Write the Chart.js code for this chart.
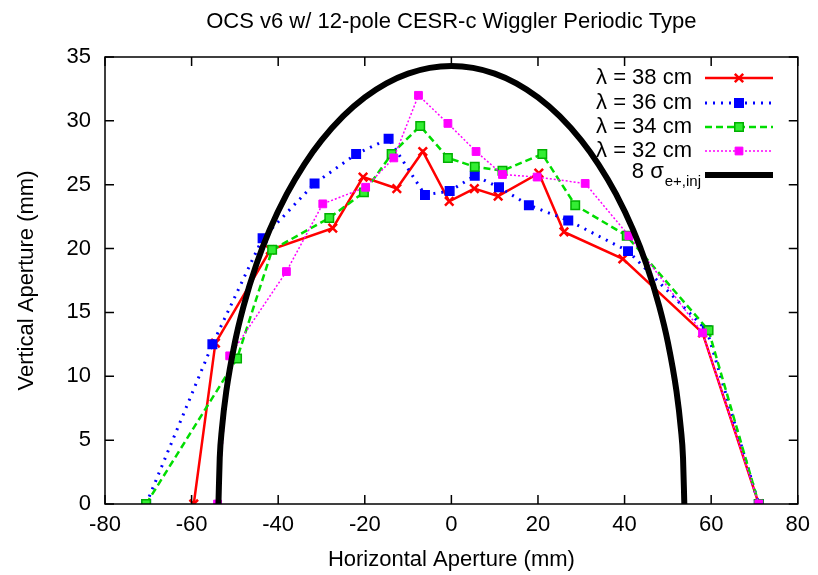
<!DOCTYPE html>
<html>
<head>
<meta charset="utf-8">
<script src="https://cdn.jsdelivr.net/npm/chart.js@4/dist/chart.umd.min.js"></script>
<style>
html,body{margin:0;padding:0;background:#fff;}
#wrap{width:818px;height:575px;position:relative;}
</style>
</head>
<body>
<div id="wrap"><canvas id="c" width="818" height="575"></canvas></div>
<script>
// ---- data ----
const titleText = "OCS v6 w/ 12-pole CESR-c Wiggler Periodic Type";
const xAxisTitle = "Horizontal Aperture (mm)";
const yAxisTitle = "Vertical Aperture (mm)";
const seriesLabels = ["λ = 38 cm", "λ = 36 cm", "λ = 34 cm", "λ = 32 cm", "8 σ"];
const sigmaSub = "e+,inj";

const xTicks = [-80, -60, -40, -20, 0, 20, 40, 60, 80];
const yTicks = [0, 5, 10, 15, 20, 25, 30, 35];

const lam38X = [-59.5, -54.5, -41.8, -27.4, -20.4, -12.6, -6.6, -0.5, 5.3, 10.8, 20.2, 26.0, 39.6, 58.0, 71.0];
const lam38Y = [0, 12.6, 19.9, 21.6, 25.6, 24.7, 27.6, 23.7, 24.7, 24.1, 25.9, 21.3, 19.2, 13.4, 0];

const lam36X = [-70.5, -55.2, -43.6, -31.6, -22.0, -14.5, -6.1, -0.4, 5.4, 11.0, 17.9, 27.0, 40.8, 59.0, 71.0];
const lam36Y = [0, 12.5, 20.8, 25.1, 27.4, 28.6, 24.2, 24.5, 25.7, 24.8, 23.4, 22.2, 19.8, 13.6, 0];

const lam34X = [-70.5, -49.5, -41.4, -28.2, -20.2, -13.8, -7.2, -0.8, 5.4, 11.8, 21.0, 28.6, 40.5, 59.4, 71.0];
const lam34Y = [0, 11.4, 19.9, 22.4, 24.4, 27.4, 29.6, 27.1, 26.4, 26.1, 27.4, 23.4, 21.0, 13.6, 0];

const lam32X = [-54.0, -51.2, -38.1, -29.7, -19.8, -13.3, -7.6, -0.8, 5.7, 11.8, 19.8, 30.9, 41.0, 58.0, 71.0];
const lam32Y = [0, 11.6, 18.2, 23.5, 24.8, 27.1, 32.0, 29.8, 27.6, 25.8, 25.6, 25.1, 21.0, 13.4, 0];

const sigmaX = [-53.8, -53.5, -53, -52, -50, -48, -45, -42, -38, -34, -30, -25, -20, -15, -10, -5, 0, 5, 10, 15, 20, 25, 30, 34, 38, 42, 45, 48, 50, 52, 53, 53.5, 53.8];
const sigmaY = [0, 3.62, 5.89, 8.80, 12.66, 15.49, 18.80, 21.44, 24.28, 26.58, 28.47, 30.37, 31.84, 32.94, 33.70, 34.15, 34.3, 34.15, 33.70, 32.94, 31.84, 30.37, 28.47, 26.58, 24.28, 21.44, 18.80, 15.49, 12.66, 8.80, 5.89, 3.62, 0];

// ---- build ----
function pts(xs, ys){ return xs.map((x,i)=>({x:x, y:ys[i]})); }
const FONT = "'Liberation Sans', Arial, sans-serif";
const FS = 22;

const datasets = [
  {label: seriesLabels[0], data: pts(lam38X, lam38Y), showLine:true, borderColor:'#ff0000', backgroundColor:'#ff0000',
   borderWidth:2.5, pointStyle:'crossRot', pointRadius:6, pointBorderWidth:2.5, order:4},
  {label: seriesLabels[1], data: pts(lam36X, lam36Y), showLine:true, borderColor:'#0000ff', backgroundColor:'#0000ff',
   borderWidth:3, borderDash:[2,6], pointStyle:'rect', pointRadius:6, pointBorderWidth:1.5, order:3},
  {label: seriesLabels[2], data: pts(lam34X, lam34Y), showLine:true, borderColor:'#00dd00', backgroundColor:'#33ee33',
   borderWidth:2.5, borderDash:[7,4], pointStyle:'rect', pointRadius:6, pointBorderWidth:1.5, pointBorderColor:'#00b000', order:2},
  {label: seriesLabels[3], data: pts(lam32X, lam32Y), showLine:true, borderColor:'#ff00ff', backgroundColor:'#ff00ff',
   borderWidth:1.5, borderDash:[2,2], pointStyle:'rect', pointRadius:5.5, pointBorderWidth:1, order:1},
  {label: seriesLabels[4], data: pts(sigmaX, sigmaY), showLine:true, borderColor:'#000000', backgroundColor:'#000000',
   borderWidth:6, pointRadius:0, cubicInterpolationMode:'monotone', order:0}
];

const framePlugin = {
  id:'frame',
  afterDatasetsDraw(chart){
    const ctx = chart.ctx, a = chart.chartArea;
    const xs = chart.scales.x, ys = chart.scales.y;
    ctx.save();
    ctx.strokeStyle = '#000'; ctx.lineWidth = 1.5;
    ctx.strokeRect(a.left, a.top, a.right - a.left, a.bottom - a.top);
    const L = 9;
    ctx.beginPath();
    xTicks.forEach(v=>{
      const p = xs.getPixelForValue(v);
      ctx.moveTo(p, a.bottom); ctx.lineTo(p, a.bottom - L);
      ctx.moveTo(p, a.top); ctx.lineTo(p, a.top + L);
    });
    yTicks.forEach(v=>{
      const p = ys.getPixelForValue(v);
      ctx.moveTo(a.left, p); ctx.lineTo(a.left + L, p);
      ctx.moveTo(a.right, p); ctx.lineTo(a.right - L, p);
    });
    ctx.stroke();

    // title
    ctx.fillStyle = '#000';
    ctx.font = FS + 'px ' + FONT;
    ctx.textAlign = 'center'; ctx.textBaseline = 'middle';
    ctx.fillText(titleText, (a.left + a.right)/2, 22);

    // legend
    const textRight = 692, lx0 = 705, lx1 = 773;
    const rowY = [78, 103, 127, 151, 175];
    chart.data.datasets.forEach((ds, i)=>{
      const y = rowY[i];
      ctx.fillStyle = '#000';
      ctx.textBaseline = 'middle';
      ctx.textAlign = 'right';
      if (i === 4) {
        ctx.font = '15px ' + FONT;
        const subW = ctx.measureText(sigmaSub).width;
        ctx.fillText(sigmaSub, textRight + 9, y + 7);
        ctx.font = FS + 'px ' + FONT;
        ctx.fillText(ds.label, textRight + 9 - subW - 1, y - 3);
      } else {
        ctx.font = FS + 'px ' + FONT;
        ctx.fillText(ds.label, textRight, y);
      }
      ctx.save();
      ctx.strokeStyle = ds.borderColor;
      ctx.lineWidth = ds.borderWidth;
      ctx.setLineDash(ds.borderDash || []);
      ctx.beginPath(); ctx.moveTo(lx0, y); ctx.lineTo(lx1, y); ctx.stroke();
      ctx.setLineDash([]);
      if (ds.pointRadius > 0) {
        ctx.fillStyle = ds.backgroundColor;
        ctx.strokeStyle = ds.pointBorderColor || ds.borderColor;
        ctx.lineWidth = ds.pointBorderWidth;
        ctx.beginPath();
        const r = ds.pointRadius, cx = (lx0+lx1)/2;
        if (ds.pointStyle === 'rect') {
          const h = r / Math.SQRT2 * 1.0;
          ctx.rect(cx - h, y - h, 2*h, 2*h); ctx.fill(); ctx.stroke();
        } else {
          const d = r*0.7;
          ctx.moveTo(cx-d, y-d); ctx.lineTo(cx+d, y+d);
          ctx.moveTo(cx+d, y-d); ctx.lineTo(cx-d, y+d); ctx.stroke();
        }
      }
      ctx.restore();
    });
    ctx.restore();
  }
};

new Chart(document.getElementById('c'), {
  type: 'scatter',
  data: { datasets },
  options: {
    responsive:false, animation:false,
    layout:{ padding:{ left:0, right:13, top:57, bottom:0 } },
    plugins:{ legend:{display:false}, tooltip:{enabled:false}, title:{display:false} },
    scales:{
      x:{
        type:'linear', min:-80, max:80,
        afterBuildTicks(s){ s.ticks = xTicks.map(v=>({value:v})); },
        afterFit(s){ s.height = 71; },
        grid:{ display:false, drawTicks:false },
        border:{ display:false },
        ticks:{ color:'#000', font:{ family:FONT, size:FS }, padding:8, maxRotation:0, autoSkip:false },
        title:{ display:true, text:xAxisTitle, color:'#000', font:{ family:FONT, size:FS }, padding:{top:0,bottom:2} }
      },
      y:{
        type:'linear', min:0, max:35,
        afterBuildTicks(s){ s.ticks = yTicks.map(v=>({value:v})); },
        afterFit(s){ s.width = 105; },
        grid:{ display:false, drawTicks:false },
        border:{ display:false },
        ticks:{ color:'#000', font:{ family:FONT, size:FS }, padding:14, autoSkip:false },
        title:{ display:true, text:yAxisTitle, color:'#000', font:{ family:FONT, size:FS }, padding:{top:14,bottom:0} }
      }
    }
  },
  plugins:[framePlugin]
});
</script>
</body>
</html>
